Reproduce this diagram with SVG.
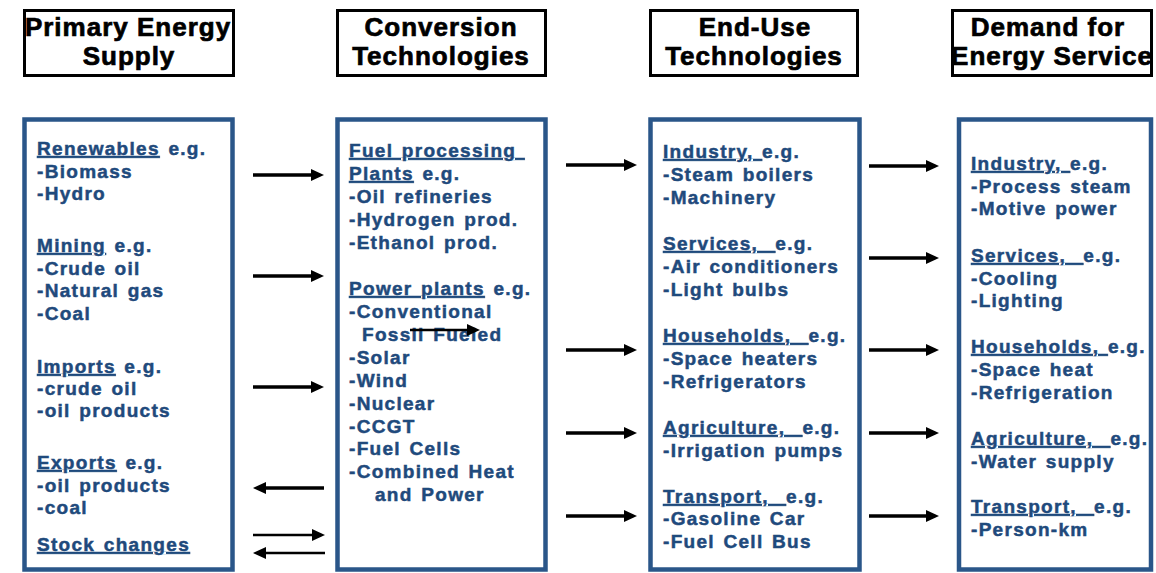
<svg xmlns="http://www.w3.org/2000/svg" width="1156" height="573" viewBox="0 0 1156 573">
<style>
.hdr{fill:#fff;stroke:#000;stroke-width:3}
.htx{font-family:"Liberation Sans",Arial,sans-serif;font-weight:bold;font-size:26px;letter-spacing:1px;fill:#000;stroke:#000;stroke-width:0.7;text-anchor:middle}
.box{fill:#fff;stroke:#2A5689;stroke-width:4.5}
.t{font-family:"Liberation Sans",Arial,sans-serif;font-weight:bold;font-size:19px;letter-spacing:1.3px;word-spacing:2px;fill:#1F4A7C;stroke:#1F4A7C;stroke-width:0.5}
.u{text-decoration:underline}
.ar{stroke:#000;stroke-width:3.5;marker-end:url(#ah)}
.ar2{stroke:#000;stroke-width:2.5;marker-end:url(#ah)}
</style>
<defs>
<marker id="ah" markerUnits="userSpaceOnUse" markerWidth="13" markerHeight="12" viewBox="0 0 13 12" refX="1" refY="6" orient="auto">
<path d="M0,0 L13,6 L0,12 z" fill="#000"/>
</marker>
</defs>
<rect width="1156" height="573" fill="#fff"/>

<g id="hdr-primary">
<rect class="hdr" x="24.5" y="10.5" width="209" height="65"/>
<text class="htx" x="128" y="36">Primary Energy</text>
<text class="htx" x="129" y="65">Supply</text>
</g>
<g id="hdr-conversion">
<rect class="hdr" x="337.5" y="10.5" width="208" height="65"/>
<text class="htx" x="441" y="36">Conversion</text>
<text class="htx" x="441" y="65">Technologies</text>
</g>
<g id="hdr-enduse">
<rect class="hdr" x="650.5" y="10.5" width="207" height="65"/>
<text class="htx" x="755" y="36">End-Use</text>
<text class="htx" x="754" y="65">Technologies</text>
</g>
<g id="hdr-demand">
<rect class="hdr" x="952.5" y="10.5" width="199" height="65"/>
<text class="htx" x="1048" y="36">Demand for</text>
<text class="htx" x="1052" y="65">Energy Service</text>
</g>

<g id="supply">
<rect class="box" x="24.5" y="119.5" width="208" height="450"/>
<text class="t" x="37" y="155"><tspan class="u">Renewables</tspan> e.g.</text>
<text class="t" x="37" y="178">-Biomass</text>
<text class="t" x="37" y="200">-Hydro</text>
<text class="t" x="37" y="252"><tspan class="u">Mining</tspan> e.g.</text>
<text class="t" x="37" y="275">-Crude oil</text>
<text class="t" x="37" y="297">-Natural gas</text>
<text class="t" x="37" y="320">-Coal</text>
<text class="t" x="37" y="373"><tspan class="u">Imports</tspan> e.g.</text>
<text class="t" x="37" y="395">-crude oil</text>
<text class="t" x="37" y="417">-oil products</text>
<text class="t" x="37" y="469"><tspan class="u">Exports</tspan> e.g.</text>
<text class="t" x="37" y="492">-oil products</text>
<text class="t" x="37" y="514">-coal</text>
<text class="t u" x="37" y="551">Stock changes</text>
</g>

<g id="conversion">
<rect class="box" x="337.5" y="119.5" width="208" height="450"/>
<text class="t" x="349" y="157"><tspan class="u">Fuel processing&#160;</tspan></text>
<text class="t" x="349" y="180"><tspan class="u">Plants</tspan> e.g.</text>
<text class="t" x="349" y="203">-Oil refineries</text>
<text class="t" x="349" y="226">-Hydrogen prod.</text>
<text class="t" x="349" y="249">-Ethanol prod.</text>
<text class="t" x="349" y="295"><tspan class="u">Power plants</tspan> e.g.</text>
<text class="t" x="349" y="318">-Conventional</text>
<text class="t" x="362" y="341">Fossil Fueled</text>
<text class="t" x="349" y="364">-Solar</text>
<text class="t" x="349" y="387">-Wind</text>
<text class="t" x="349" y="410">-Nuclear</text>
<text class="t" x="349" y="433">-CCGT</text>
<text class="t" x="349" y="455">-Fuel Cells</text>
<text class="t" x="349" y="478">-Combined Heat</text>
<text class="t" x="375" y="501">and Power</text>
</g>

<g id="enduse">
<rect class="box" x="650.5" y="119.5" width="209" height="450"/>
<text class="t" x="663" y="158"><tspan class="u">Industry,&#160;</tspan>e.g.</text>
<text class="t" x="663" y="181">-Steam boilers</text>
<text class="t" x="663" y="204">-Machinery</text>
<text class="t" x="663" y="250"><tspan class="u">Services,&#160;&#160;</tspan>e.g.</text>
<text class="t" x="663" y="273">-Air conditioners</text>
<text class="t" x="663" y="296">-Light bulbs</text>
<text class="t" x="663" y="342"><tspan class="u">Households,&#160;&#160;</tspan>e.g.</text>
<text class="t" x="663" y="365">-Space heaters</text>
<text class="t" x="663" y="388">-Refrigerators</text>
<text class="t" x="663" y="434"><tspan class="u">Agriculture,&#160;&#160;</tspan>e.g.</text>
<text class="t" x="663" y="457">-Irrigation pumps</text>
<text class="t" x="663" y="503"><tspan class="u">Transport,&#160;&#160;</tspan>e.g.</text>
<text class="t" x="663" y="525">-Gasoline Car</text>
<text class="t" x="663" y="548">-Fuel Cell Bus</text>
</g>

<g id="demand">
<rect class="box" x="959" y="119.5" width="192" height="450"/>
<text class="t" x="971" y="170"><tspan class="u">Industry,&#160;</tspan>e.g.</text>
<text class="t" x="971" y="193">-Process steam</text>
<text class="t" x="971" y="215">-Motive power</text>
<text class="t" x="971" y="262"><tspan class="u">Services,&#160;&#160;</tspan>e.g.</text>
<text class="t" x="971" y="285">-Cooling</text>
<text class="t" x="971" y="307">-Lighting</text>
<text class="t" x="971" y="353"><tspan class="u">Households,&#160;</tspan>e.g.</text>
<text class="t" x="971" y="376">-Space heat</text>
<text class="t" x="971" y="399">-Refrigeration</text>
<text class="t" x="971" y="445"><tspan class="u">Agriculture,&#160;&#160;</tspan>e.g.</text>
<text class="t" x="971" y="468">-Water supply</text>
<text class="t" x="971" y="513"><tspan class="u">Transport,&#160;&#160;</tspan>e.g.</text>
<text class="t" x="971" y="536">-Person-km</text>
</g>

<g id="connectors">
<line class="ar" x1="253" y1="175" x2="312" y2="175"/>
<line class="ar" x1="253" y1="276" x2="312" y2="276"/>
<line class="ar" x1="253" y1="387" x2="312" y2="387"/>
<line class="ar" x1="324" y1="488" x2="265" y2="488"/>
<line class="ar2" x1="253" y1="535" x2="313" y2="535"/>
<line class="ar2" x1="325" y1="553" x2="265" y2="553"/>
<line class="ar2" x1="410" y1="330" x2="468" y2="330"/>
<line class="ar" x1="566" y1="165" x2="625" y2="165"/>
<line class="ar" x1="566" y1="350" x2="625" y2="350"/>
<line class="ar" x1="566" y1="433" x2="625" y2="433"/>
<line class="ar" x1="566" y1="516" x2="625" y2="516"/>
<line class="ar" x1="869" y1="166" x2="927" y2="166"/>
<line class="ar" x1="869" y1="258" x2="927" y2="258"/>
<line class="ar" x1="869" y1="350" x2="927" y2="350"/>
<line class="ar" x1="869" y1="433" x2="927" y2="433"/>
<line class="ar" x1="869" y1="516" x2="927" y2="516"/>
</g>
</svg>
